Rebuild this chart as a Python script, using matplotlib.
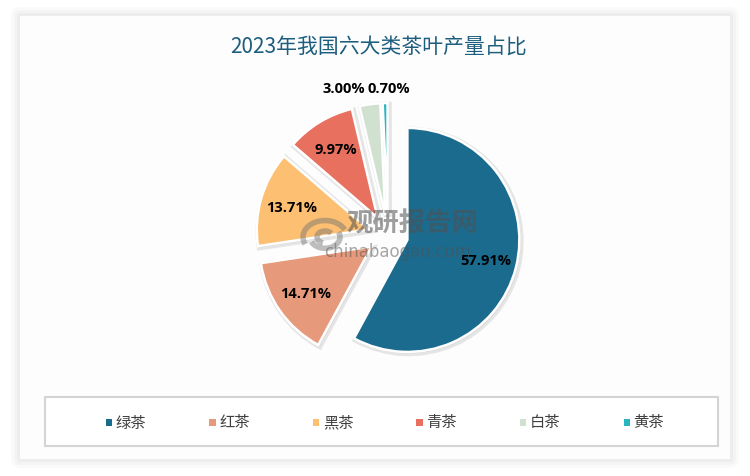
import matplotlib
matplotlib.use("Agg")
import matplotlib.pyplot as plt
import matplotlib.patches as mpatches
import numpy as np

categories = ['绿茶', '红茶', '黑茶', '青茶', '白茶', '黄茶']
values = [57.91, 14.71, 13.71, 9.97, 3.00, 0.70]
labels = ['57.91%', '14.71%', '13.71%', '9.97%', '3.00%', '0.70%']
colors = ['#1b6b8f', '#e69a7b', '#fdbf72', '#e8705e', '#d0e2cf', '#2bb5c3']
title = '2023年我国六大类茶叶产量占比'

plt.rcParams['font.family'] = ['Noto Sans CJK SC', 'DejaVu Sans']
plt.rcParams['hatch.color'] = '#ececec'
plt.rcParams['hatch.linewidth'] = 0.8

W, H = 750, 477
fig = plt.figure(figsize=(7.5, 4.77), dpi=100)
fig.patch.set_facecolor('white')
ax = fig.add_axes([0, 0, 1, 1])

# outer soft shadow + panel
for k, a in zip([9, 6, 3], [0.05, 0.07, 0.09]):
    ax.add_patch(mpatches.FancyBboxPatch((20 - k, 17 - k), 710 + 2 * k, 443 + 2 * k,
                                         boxstyle='round,pad=0,rounding_size=%d' % k,
                                         facecolor='#b0b0b0', edgecolor='none', alpha=a, zorder=0))
ax.add_patch(mpatches.Rectangle((20, 17), 710, 443, facecolor='#fdfdfd', edgecolor='none', zorder=1))
ax.add_patch(mpatches.Rectangle((20, 17), 710, 443, facecolor='none', edgecolor='none',
                                hatch='\\\\\\\\', zorder=1.1))

cx, cy, r = 388, H - 236, 112
ex = [20] * len(values)

# shadow pie
ws, _ = ax.pie(values, explode=ex, startangle=90, counterclock=False, radius=r,
               center=(cx + 1.5, cy - 1.5), frame=True,
               wedgeprops=dict(facecolor='#c8c8c8', edgecolor='#d5d5d5', linewidth=4, alpha=0.6))
for w in ws:
    w.set_zorder(2)

wedges, _ = ax.pie(values, explode=ex, colors=colors, startangle=90, counterclock=False,
                   radius=r, center=(cx, cy), frame=True,
                   wedgeprops=dict(edgecolor='white', linewidth=1.8))
for w in wedges:
    w.set_zorder(3)

for w, lab, v in zip(wedges, labels, values):
    mid = ((w.theta1 + w.theta2) / 2) % 360
    th = np.deg2rad(mid)
    wx, wy = w.center
    if v >= 5:
        d = 0.72 * r
        ax.text(wx + d * np.cos(th), wy + d * np.sin(th), lab, ha='center', va='center',
                fontsize=10.5, fontweight='bold', color='black', family='Open Sans', zorder=8)
    else:
        right = mid > 92
        ax.text(cx - 22 + (-1 if right else 1), cy + 1.31 * r, lab,
                ha='right' if right else 'left', va='center', fontsize=10.5, fontweight='bold',
                color='black', family='Open Sans', zorder=8)

# watermark
ax.text(412, H - 224, '观研报告网', ha='center', va='center', fontsize=19, fontweight='bold',
        color='#505050', alpha=0.55, zorder=7)
ax.text(398, H - 252, 'chinabaogao.com', ha='center', va='center', fontsize=12,
        color='#505050', alpha=0.5, family='DejaVu Sans', zorder=7)
for rad, t1, t2 in [(22, 20, 200), (15, 200, 380), (8, 30, 250)]:
    ax.add_patch(mpatches.Arc((325, H - 238), rad * 2, rad * 1.5, theta1=t1, theta2=t2,
                              color='#707070', alpha=0.45, linewidth=4, zorder=7))

# title
ax.text(379, H - 47, title, ha='center', va='center', fontsize=15, color='#1d5e7e', zorder=6)

# legend box
ax.add_patch(mpatches.Rectangle((45, H - 447), 673, 49, facecolor='white', edgecolor='#d4d4d4',
                                linewidth=1.5, zorder=4))
lx0, lstep, ly = 108.5, 103.6, H - 423
for i, (c, name) in enumerate(zip(colors, categories)):
    x = lx0 + i * lstep
    ax.add_patch(mpatches.Rectangle((x - 3, ly - 3.5), 6.5, 6.5, facecolor=c, edgecolor='none', zorder=5))
    ax.text(x + 7, ly, name, ha='left', va='center', fontsize=11, color='#404040', zorder=5)

ax.set_xlim(0, W)
ax.set_ylim(0, H)
ax.set_aspect('auto')
ax.axis('off')

fig.savefig('out.png', dpi=100, facecolor='white')
